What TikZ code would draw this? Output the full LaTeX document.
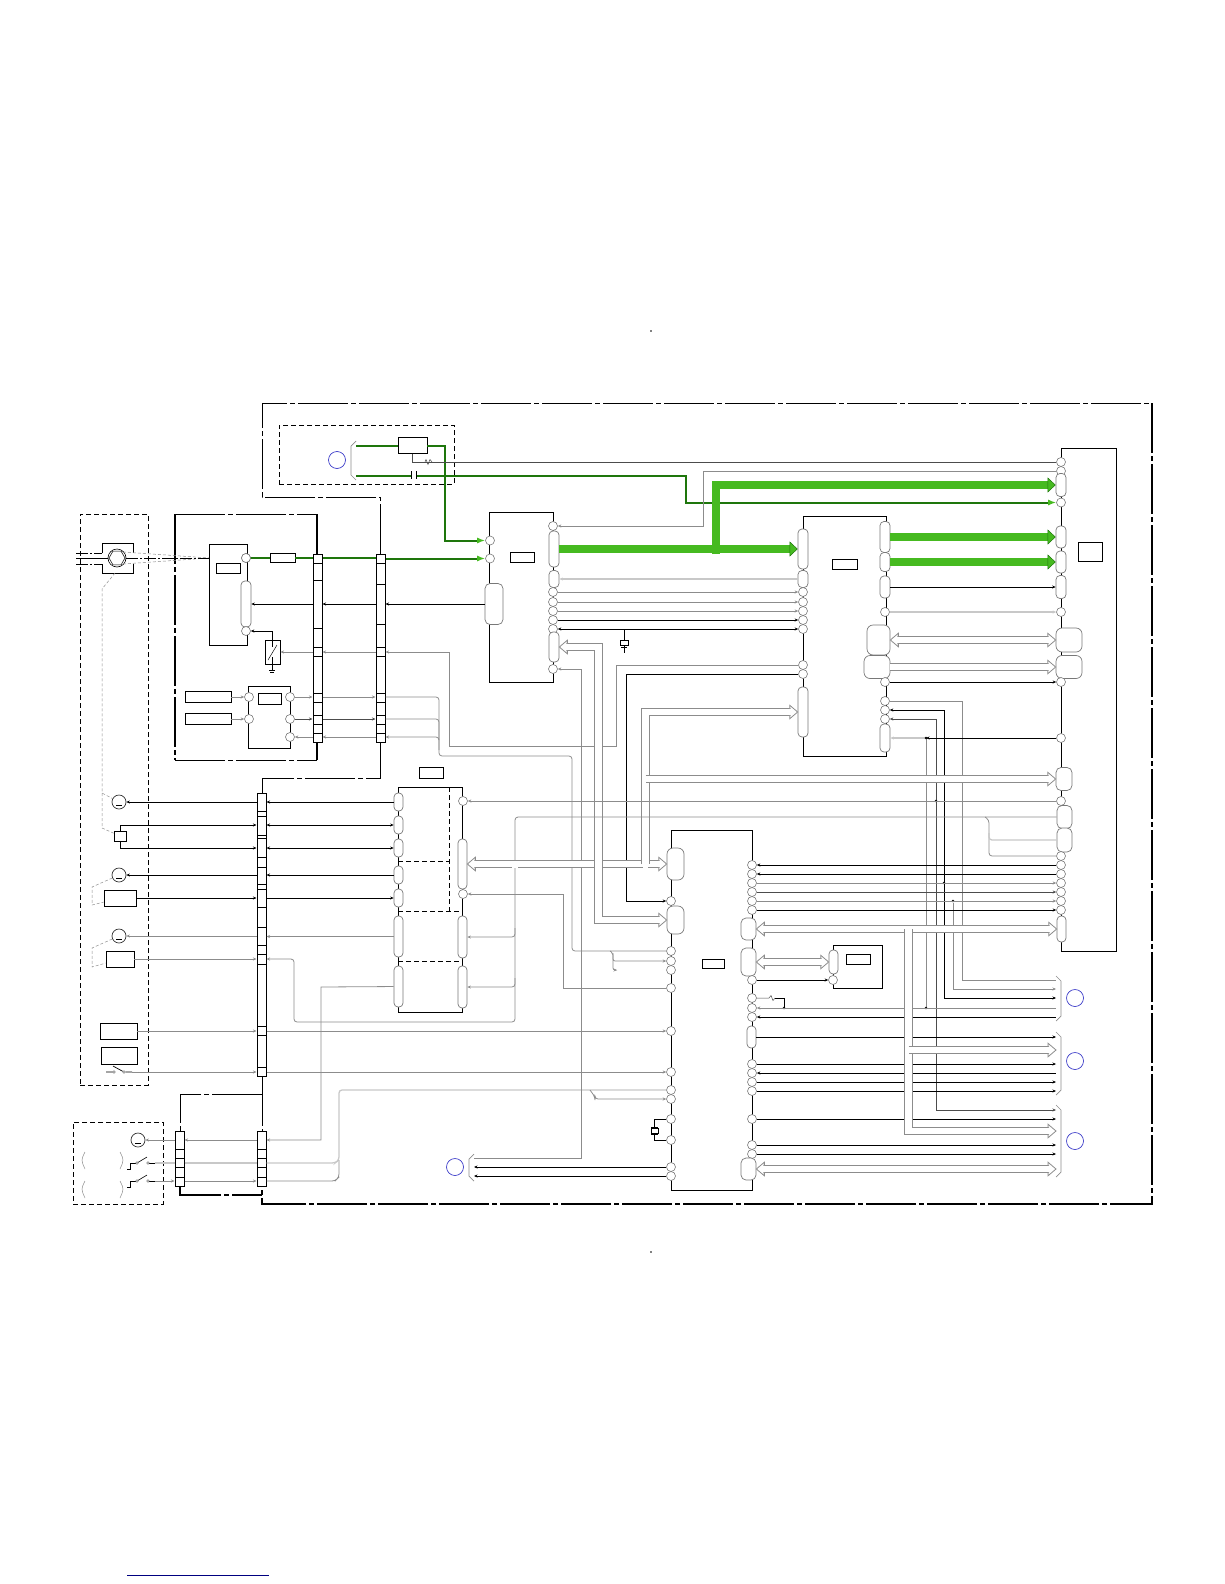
\documentclass[tikz,border=0pt]{standalone}
\usepackage{xcolor}
\definecolor{padgrey}{RGB}{120,120,120}
\definecolor{wiregrey}{RGB}{140,140,140}
\definecolor{palegrey}{RGB}{200,200,200}
\definecolor{fatgreen}{RGB}{70,186,32}
\definecolor{darkgreen}{RGB}{30,118,12}
\definecolor{ringblue}{RGB}{60,60,200}
\usetikzlibrary{arrows.meta,positioning,calc,shapes.geometric}
\pgfdeclarearrow{
  name=BusHead,
  setup code={\pgfarrowssettipend{0pt}\pgfarrowssetlineend{-7pt}%
    \pgfarrowssetvisualbackend{-8pt}\pgfarrowssetbackend{-8pt}},
  drawing code={
    \pgfsetdash{}{0pt}\pgfsetlinewidth{.8pt}\pgfsetfillcolor{white}\pgfsetmiterjoin
    \pgfpathmoveto{\pgfqpoint{-7pt}{3.7pt}}
    \pgfpathlineto{\pgfqpoint{-8pt}{3.7pt}}
    \pgfpathlineto{\pgfqpoint{-8pt}{6.8pt}}
    \pgfpathlineto{\pgfqpoint{0pt}{0pt}}
    \pgfpathlineto{\pgfqpoint{-8pt}{-6.8pt}}
    \pgfpathlineto{\pgfqpoint{-8pt}{-3.7pt}}
    \pgfpathlineto{\pgfqpoint{-7pt}{-3.7pt}}
    \pgfusepathqfillstroke
  }
}

\begin{document}
\begin{tikzpicture}[
    x=1pt, y=-1pt,
    >={Stealth[length=3.5pt,width=3pt]},
    frame/.style={line width=1pt, dash pattern=on 50pt off 3pt on 5pt off 3pt},
    thickframe/.style={frame, line width=1.8pt},
    boxdash/.style={dash pattern=on 5pt off 3pt, line width=.9pt},
    dashbox/.style={rectangle, draw, boxdash, inner sep=0},
    icbox/.style={rectangle, draw, line width=1pt, inner sep=0},
    tag/.style={rectangle, draw, fill=white, line width=.9pt, inner sep=0},
    ladder/.style={rectangle, draw, fill=white, line width=1pt, inner sep=0, minimum width=9pt},
    pad/.style={circle, draw=padgrey, fill=white, line width=.6pt, inner sep=0, minimum size=9pt},
    pill/.style={rectangle, rounded corners=4pt, draw=padgrey, fill=white, line width=.7pt, inner sep=0},
    ring/.style={circle, draw=ringblue, line width=.7pt, inner sep=0, minimum size=17pt},
    motor/.style={circle, draw=black!80, fill=white, line width=.7pt, inner sep=0, minimum size=14pt},
    dot/.style={circle, fill=black, inner sep=0, minimum size=2.6pt},
    contact/.style={circle, draw=black!70, fill=white, line width=.4pt, inner sep=0, minimum size=2.6pt},
    wire/.style={black, line width=.9pt},
    dwire/.style={black!70, line width=.8pt},
    gwire/.style={wiregrey, line width=.8pt},
    lwire/.style={palegrey, line width=1.3pt},
    greenwire/.style={darkgreen, line width=2pt},
    greentip/.style={-{Latex[length=8pt,width=6pt,fatgreen]}},
    bus/.style={draw=wiregrey, line width=.8pt, double=white, double distance=6.6pt},
    fat/.style={draw=darkgreen, line width=.6pt, double=fatgreen, double distance=7.4pt,
                -{Triangle[length=8pt,width=15pt,fill=fatgreen,line width=.5pt]}},
    hint/.style={wiregrey, densely dashed, line width=.5pt},
    bracket/.style={wiregrey, line width=.7pt}
  ]
    \useasboundingbox (0,0) rectangle (1224,1584);

    % page marks
    \node[dot, minimum size=1.6pt] (markt) at (651,331) {};
    \node[dot, minimum size=1.6pt] (markb) at (651,1252) {};
    \draw[blue!50!black, line width=1pt] (127,1575) -- (269,1575);

    % outer frames
    \draw[frame] (380,554) -- (380,497) -- (262,497) -- (262,403) -- (1152,403);
    \draw[thickframe] (1152,403) -- (1152,1204) -- (262,1204) -- (262,1186);
    \draw[frame] (380,742) -- (380,778) -- (262,778) -- (262,793);
    \draw[frame] (262,1076) -- (262,1131);
    \draw[frame] (262,1094) -- (180,1094) -- (180,1131);
    \draw[thickframe] (180,1186) -- (180,1195) -- (262,1195);
    \draw[frame] (175,514) -- (317,514);
    \draw[frame] (175,760) -- (317,760);
    \draw[thickframe] (175,514) -- (175,760);
    \draw[line width=1.6pt] (317,514) -- (317,554);
    \draw[line width=1.6pt] (317,742) -- (317,760);

    % dashed boxes
    \node[dashbox, minimum width=175pt, minimum height=59pt] (boxa) at (366.5,454.5) {};
    \node[dashbox, minimum width=68pt, minimum height=571pt] (boxb) at (114,799.5) {};
    \node[dashbox, minimum width=90pt, minimum height=82pt] (boxc) at (118,1163) {};

    % rings
    \node[ring] (ringa) at (337,460) {};
    \node[ring] (ringb) at (455,1167) {};
    \node[ring] (ringc) at (1075,998) {};
    \node[ring] (ringd) at (1075,1061) {};
    \node[ring] (ringe) at (1075,1141) {};

    % brackets
    \draw[bracket] (356,441) -- (351,446) -- (351,475) -- (356,480);
    \draw[bracket] (474,1154) -- (469,1159) -- (469,1176) -- (474,1181);
    \draw[bracket] (1056,976) -- (1061,981) -- (1061,1016) -- (1056,1021);
    \draw[bracket] (1056,1032) -- (1061,1037) -- (1061,1090) -- (1056,1095);
    \draw[bracket] (1056,1105) -- (1061,1110) -- (1061,1172) -- (1056,1177);
    \coordinate (lb) at (474,1167);
    \coordinate (bk) at (1056,1000);
    \coordinate (am) at (356,445.5);
    \coordinate (ac) at (356,475.5);

    % connector blocks
    \node[ladder, minimum height=188pt] (cna) at (317.5,648) {};
    \node[ladder, minimum height=188pt] (cnb) at (380.5,648) {};
    \node[ladder, minimum height=283pt] (cnc) at (261.5,934.5) {};
    \node[ladder, minimum height=55pt] (cnd) at (179.5,1158.5) {};
    \node[ladder, minimum height=55pt] (cne) at (261.5,1158.5) {};
    \foreach \y in {563,580,628,647,656,693,702,715,724,733}
      \draw[line width=.8pt] (313,\y) -- (322,\y);
    \foreach \y in {563,584,624,647,656,693,702,715,724,733}
      \draw[line width=.8pt] (376,\y) -- (385,\y);
    \foreach \y in {811,816,835,838,857,867,884,889,907,927,945,954,964,1026,1035,1067}
      \draw[line width=.8pt] (257,\y) -- (266,\y);
    \foreach \y in {1149,1158,1167,1177} {
      \draw[line width=.8pt] (175,\y) -- (184,\y);
      \draw[line width=.8pt] (257,\y) -- (266,\y);
    }

    % Tuner block
    \node[icbox, minimum width=38pt, minimum height=101pt] (tun) at (228,594.5) {};
    \node[tag, minimum width=24pt, minimum height=10pt] (tunt) at (228,568) {};
    \node[pad] (tna) at (246,558) {};
    \node[pill, minimum width=10pt, minimum height=46pt] (tnp) at (246,604) {};
    \node[pad] (tnb) at (246,631) {};
    \node[tag, minimum width=25pt, minimum height=9pt] (rfa) at (282.5,558) {};
    \node[tag, minimum width=15pt, minimum height=24pt] (swa) at (272.5,652) {};
    \draw[line width=.5pt] (268,660) -- (277,645);
    \draw[line width=.5pt] (272,639) -- (272,647) (272,657) -- (272,670);
    \draw[line width=.5pt] (269,670) -- (275,670) (270,672) -- (274,672);

    % Small block under tuner
    \node[icbox, minimum width=42pt, minimum height=62pt] (amp) at (269,717) {};
    \node[tag, minimum width=23pt, minimum height=11pt] (ampt) at (269.5,698.5) {};
    \node[pad] (ama) at (249,697) {};
    \node[pad] (amb) at (249,719) {};
    \node[pad] (amc) at (290,697) {};
    \node[pad] (amd) at (290,719) {};
    \node[pad] (ame) at (290,737) {};
    \node[tag, minimum width=46pt, minimum height=11pt] (srca) at (208,697) {};
    \node[tag, minimum width=46pt, minimum height=11pt] (srcb) at (208,719) {};

    % Left parts
    \draw[line width=.9pt] (102,553) -- (102,543) -- (133,543) -- (133,553);
    \draw[line width=.9pt] (102,564) -- (102,573) -- (133,573) -- (133,564);
    \node[circle, draw, fill=white, line width=.6pt, inner sep=0, minimum size=18pt] (jack) at (117,558) {};
    \node[regular polygon, regular polygon sides=6, draw, line width=.5pt, inner sep=0, minimum size=16pt] (jacki) at (117,558) {};
    \node[motor] (mota) at (119,802) {};
    \node[tag, minimum width=12pt, minimum height=10pt] (sqa) at (120,836) {};
    \node[motor] (motb) at (119,875) {};
    \node[tag, minimum width=32pt, minimum height=16pt] (reca) at (120,898) {};
    \node[motor] (motc) at (119,936) {};
    \node[tag, minimum width=28pt, minimum height=16pt] (recb) at (120,959) {};
    \node[tag, minimum width=37pt, minimum height=16pt] (recc) at (118.5,1031) {};
    \node[tag, minimum width=36pt, minimum height=17pt] (recd) at (119,1055.5) {};
    \coordinate (swb) at (132,1072);
    \node[contact] (cta) at (114,1072) {};
    \node[contact] (ctb) at (124,1072) {};
    \draw[line width=.7pt] (106,1072) -- (cta) (113,1066) -- (ctb) (ctb) -- (swb);
    \node[motor] (motd) at (138,1140) {};
    \coordinate (swc) at (155,1163);
    \coordinate (swd) at (155,1181);
    \foreach \y in {1163,1181} {
      \draw[line width=.8pt] (127,\y+6) -- (131,\y+6) (130,\y+6) -- (130,\y) -- (136,\y);
      \draw[line width=.6pt] (137,\y) -- (147,\y-6);
      \draw[line width=.8pt] (149,\y) -- (155,\y);
      \node[contact] at (137,\y) {};
      \node[contact] at (148,\y) {};
    }
    \foreach \y in {1152,1181} {
      \draw[palegrey!70!black, line width=.5pt] (85,\y) .. controls (81,\y+8) .. (85,\y+17);
      \draw[palegrey!70!black, line width=.5pt] (120,\y) .. controls (124,\y+8) .. (120,\y+17);
    }
    \foreach \m in {mota,motb,motc,motd}
      \draw[line width=.8pt] ([shift={(-3,3.5)}]\m.center) -- ++(6,0);

    % Dashed hints from the jack
    \draw[hint] (115,573) -- (102,589) -- (102,793) -- (mota);
    \draw[hint] (102,793) -- (102,828) -- (sqa);
    \draw[hint] (motb) -- (92,887) -- (92,905) -- (reca);
    \draw[hint] (motc) -- (92,948) -- (92,967) -- (recb);
    \draw[hint] (123,552) -- (209,558);
    \draw[hint] (123,564) -- (209,558);
    \draw[line width=.7pt, dash pattern=on 12pt off 2pt on 2pt off 2pt] (76,553) -- (102,553);
    \draw[line width=.7pt] (76,558) -- (jack);
    \draw[line width=.7pt, dash pattern=on 12pt off 2pt on 2pt off 2pt] (76,564) -- (102,564);
    \draw[line width=.7pt, dash pattern=on 12pt off 2pt on 2pt off 2pt] (jack) -- (tun.west |- jack);

    % Block 3, drive
    \node[icbox, minimum width=64pt, minimum height=225pt] (drv) at (430,899.5) {};
    \node[tag, minimum width=24pt, minimum height=11pt] (drvt) at (431,772.5) {};
    \draw[boxdash] (449,787) -- (449,911);
    \draw[boxdash] (398,861) -- (449,861);
    \draw[boxdash] (398,911) -- (462,911);
    \draw[boxdash] (398,961) -- (462,961);
    \node[pill, minimum width=9pt, minimum height=18pt] (dla) at (398.5,802) {};
    \node[pill, minimum width=9pt, minimum height=18pt] (dlb) at (398.5,825) {};
    \node[pill, minimum width=9pt, minimum height=18pt] (dlc) at (398.5,848) {};
    \node[pill, minimum width=9pt, minimum height=18pt] (dld) at (398.5,875) {};
    \node[pill, minimum width=9pt, minimum height=18pt] (dle) at (398.5,898) {};
    \node[pill, minimum width=9pt, minimum height=41pt] (dlf) at (398.5,936.5) {};
    \node[pill, minimum width=9pt, minimum height=41pt] (dlg) at (398.5,986.5) {};
    \node[pad] (dra) at (463,801) {};
    \node[pill, minimum width=9pt, minimum height=50pt] (drb) at (462.5,864) {};
    \node[pad] (drc) at (463,894) {};
    \node[pill, minimum width=9pt, minimum height=42pt] (drd) at (462.5,937) {};
    \node[pill, minimum width=9pt, minimum height=42pt] (dre) at (462.5,987) {};

    % Block 1
    \node[icbox, minimum width=64pt, minimum height=170pt] (ica) at (521,597) {};
    \node[tag, minimum width=24pt, minimum height=10pt] (icat) at (522,557) {};
    \node[pad] (iaa) at (490,540.5) {};
    \node[pad] (iab) at (490,558.5) {};
    \node[pill, rounded corners=5pt, minimum width=18pt, minimum height=41pt] (ial) at (494,604) {};
    \node[pad] (iac) at (553,526) {};
    \node[pill, minimum width=10pt, minimum height=36pt] (iar) at (554,549) {};
    \node[pill, minimum width=10pt, minimum height=17pt] (ias) at (554,579) {};
    \node[pad] (iad) at (553,592) {};
    \node[pad] (iae) at (553,602) {};
    \node[pad] (iaf) at (553,611) {};
    \node[pad] (iag) at (553,620) {};
    \node[pad] (iah) at (553,629) {};
    \node[pill, minimum width=10pt, minimum height=30pt] (iat) at (554,647) {};
    \node[pad] (iai) at (553,669) {};

    % Block 2
    \node[icbox, minimum width=83pt, minimum height=240pt] (icb) at (844.5,636) {};
    \node[tag, minimum width=25pt, minimum height=10pt] (icbt) at (844.5,564) {};
    \node[pill, minimum width=10pt, minimum height=40pt] (ibl) at (803,549) {};
    \node[pill, minimum width=10pt, minimum height=17pt] (ibs) at (803,579) {};
    \node[pad] (ibd) at (803,592) {};
    \node[pad] (ibe) at (803,602) {};
    \node[pad] (ibf) at (803,611) {};
    \node[pad] (ibg) at (803,620) {};
    \node[pad] (ibh) at (803,629) {};
    \node[pad] (ibi) at (803,665) {};
    \node[pad] (ibj) at (803,674) {};
    \node[pill, minimum width=10pt, minimum height=50pt] (ibt) at (803,712) {};
    \node[pill, minimum width=10pt, minimum height=31pt] (ira) at (885,537) {};
    \node[pill, minimum width=10pt, minimum height=19pt] (irb) at (885,562) {};
    \node[pill, minimum width=10pt, minimum height=22pt] (irc) at (885,587) {};
    \node[pad] (ird) at (885,612) {};
    \node[pill, rounded corners=6pt, minimum width=23pt, minimum height=30pt] (ire) at (878.5,640) {};
    \node[pill, rounded corners=6pt, minimum width=26pt, minimum height=23pt] (irf) at (877,667) {};
    \node[pad] (irg) at (885,682) {};
    \node[pad] (irh) at (885,701) {};
    \node[pad] (iri) at (885,710) {};
    \node[pad] (irj) at (885,719) {};
    \node[pill, minimum width=10pt, minimum height=28pt] (irk) at (885,738) {};

    % Block 4, far right
    \node[icbox, minimum width=55pt, minimum height=503pt] (icd) at (1088.5,699.5) {};
    \node[tag, minimum width=24pt, minimum height=19pt] (icdt) at (1090,551.5) {};
    \node[pad] (rta) at (1061,462) {};
    \node[pad] (rtb) at (1061,471) {};
    \node[pill, minimum width=10pt, minimum height=23pt] (rtc) at (1061,485) {};
    \node[pad] (rtd) at (1061,502.5) {};
    \node[pill, minimum width=10pt, minimum height=22pt] (rte) at (1061,537) {};
    \node[pill, minimum width=10pt, minimum height=22pt] (rtf) at (1061,562) {};
    \node[pill, minimum width=10pt, minimum height=23pt] (rtg) at (1061,587) {};
    \node[pad] (rth) at (1061,612) {};
    \node[pill, rounded corners=6pt, minimum width=26pt, minimum height=24pt] (rti) at (1069,640) {};
    \node[pill, rounded corners=6pt, minimum width=26pt, minimum height=23pt] (rtj) at (1069,667) {};
    \node[pad] (rtk) at (1061,682) {};
    \node[pad] (rtl) at (1061,738) {};
    \node[pill, rounded corners=5pt, minimum width=16pt, minimum height=23pt] (rtm) at (1064,779) {};
    \node[pad] (rtn) at (1061,801) {};
    \node[pill, rounded corners=5pt, minimum width=15pt, minimum height=23pt] (rto) at (1064.5,817) {};
    \node[pill, rounded corners=5pt, minimum width=15pt, minimum height=24pt] (rtp) at (1064.5,840) {};
    \node[pad] (rtq) at (1061,856) {};
    \node[pad] (rtr) at (1061,865) {};
    \node[pad] (rts) at (1061,874) {};
    \node[pad] (rtt) at (1061,883) {};
    \node[pad] (rtu) at (1061,892) {};
    \node[pad] (rtv) at (1061,901) {};
    \node[pad] (rtw) at (1061,910) {};
    \node[pill, minimum width=9pt, minimum height=26pt] (rtx) at (1061.5,929) {};

    % Block 5, bottom centre
    \node[icbox, minimum width=81pt, minimum height=360pt] (ice) at (711.5,1010) {};
    \node[tag, minimum width=22pt, minimum height=9pt] (icet) at (713,963.5) {};
    \node[pill, rounded corners=6pt, minimum width=17pt, minimum height=32pt] (bla) at (675.5,864) {};
    \node[pad] (bpa) at (671,901) {};
    \node[pill, rounded corners=6pt, minimum width=17pt, minimum height=28pt] (blb) at (675.5,920) {};
    \node[pad] (bpb) at (671,951) {};
    \node[pad] (bpc) at (671,961) {};
    \node[pad] (bpd) at (671,970) {};
    \node[pad] (bpe) at (671,988) {};
    \node[pad] (bpf) at (671,1031) {};
    \node[pad] (bpg) at (671,1072) {};
    \node[pad] (bph) at (671,1090) {};
    \node[pad] (bpi) at (671,1099) {};
    \node[pad] (bpj) at (671,1119) {};
    \node[pad] (bpk) at (671,1140) {};
    \node[pad] (bpl) at (671,1167) {};
    \node[pad] (bpm) at (671,1176) {};
    \node[pad] (cpa) at (752,865) {};
    \node[pad] (cpb) at (752,874) {};
    \node[pad] (cpc) at (752,883) {};
    \node[pad] (cpd) at (752,892) {};
    \node[pad] (cpe) at (752,901) {};
    \node[pad] (cpf) at (752,910) {};
    \node[pill, rounded corners=5pt, minimum width=15pt, minimum height=22pt] (cra) at (748.5,929) {};
    \node[pill, rounded corners=5pt, minimum width=15pt, minimum height=28pt] (crb) at (748.5,962) {};
    \node[pad] (cpg) at (752,980) {};
    \node[pad] (cph) at (752,998) {};
    \node[pad] (cpi) at (752,1008) {};
    \node[pad] (cpj) at (752,1017) {};
    \node[pill, minimum width=9pt, minimum height=22pt] (crc) at (751.5,1037) {};
    \node[pad] (cpk) at (752,1064) {};
    \node[pad] (cpl) at (752,1073) {};
    \node[pad] (cpm) at (752,1082) {};
    \node[pad] (cpn) at (752,1091) {};
    \node[pad] (cpo) at (752,1119) {};
    \node[pad] (cpp) at (752,1145) {};
    \node[pad] (cpq) at (752,1154) {};
    \node[pill, rounded corners=5pt, minimum width=15pt, minimum height=22pt] (crd) at (748.5,1169) {};

    % Block 6, small one
    \node[icbox, minimum width=49pt, minimum height=43pt] (icf) at (857.5,966.5) {};
    \node[tag, minimum width=24pt, minimum height=10pt] (icft) at (858,959) {};
    \node[pill, minimum width=9pt, minimum height=24pt] (ifa) at (833.5,962) {};
    \node[pad] (ifb) at (833,980) {};

    % Top green part
    \node[tag, minimum width=29pt, minimum height=16pt] (rfb) at (412.5,445.5) {};
    \draw[greenwire] (am) -- (rfb);
    \draw[greenwire, greentip] (rfb) -| (444.5,540.5) -- (iaa);
    \draw[greenwire] (ac) -- (410.5,475.5);
    \draw[line width=.7pt] (411,471) -- (411,479) (416,471) -- (416,479);
    \draw[greenwire, greentip] (416.5,475.5) -| (685.5,502.5) -- (rtd);
    \draw[dwire] (rfb.south) |- (rta);
    \draw[dwire, line width=.5pt] (425,462) -- (426,459.5) -- (428,464.5) -- (430,459.5) -- (432,462);
    \draw[gwire, <-] (iac) -| (703,471) -- (rtb);

    % Tuner wires
    \draw[greenwire] (tna |- rfa) -- (rfa);
    \draw[greenwire] (rfa) -- (rfa -| cna.west);
    \draw[greenwire] (rfa -| cna.east) -- (rfa -| cnb.west);
    \draw[greenwire, greentip] (iab -| cnb.east) -- (iab);
    \node[pad] (tnc) at (246,558) {};
    \draw[wire, ->] (ial) -- (ial -| cnb.east);
    \draw[wire, ->] (ial -| cnb.west) -- (ial -| cna.east);
    \draw[wire, ->] (ial -| cna.west) -- (tnp);
    \draw[wire, <-] (tnb) -| (swa.north);
    \draw[gwire, ->] (swa -| cna.west) -- (swa);
    \draw[gwire, ->] (swa -| cnb.west) -- (swa -| cna.east);
    \draw[gwire, ->] (ibi) -| (616,746) -| (449,652) -- (swa -| cnb.east);
    \draw[gwire, ->] (srca) -- (ama);
    \draw[gwire, ->] (srcb) -- (amb);
    \draw[gwire, ->] (amc) -- (amc -| cna.west);
    \draw[gwire, ->] (amc -| cna.east) -- (amc -| cnb.west);
    \draw[dwire, ->] (amd) -- (amd -| cna.west);
    \draw[dwire, ->] (amd -| cna.east) -- (amd -| cnb.west);
    \draw[gwire, <-] (ame) -- (ame -| cna.west);
    \draw[gwire, <-] (ame -| cna.east) -- (ame -| cnb.west);
    \draw[gwire, rounded corners=3pt] (amc -| cnb.east) -| (439,756) -| (572,951) -- (bpb);
    \draw[gwire, rounded corners=3pt] (amd -| cnb.east) -| (439,740);
    \draw[gwire, rounded corners=3pt, <-] (ame -| cnb.east) -| (439,750);
    \draw[gwire, rounded corners=2pt, ->] (610,951) -- (613,953) |- (bpc);
    \draw[gwire, rounded corners=2pt, ->] (613,953) |- (617,970);

    % Left block wires
    \draw[wire, <-] (mota) -- (mota -| cnc.west);
    \draw[wire, <-] (dla -| cnc.east) -- (dla);
    \draw[wire, ->] (sqa.north) |- (dlb -| cnc.west);
    \draw[wire, <->] (dlb -| cnc.east) -- (dlb);
    \draw[wire, ->] (sqa.south) |- (dlc -| cnc.west);
    \draw[wire, <->] (dlc -| cnc.east) -- (dlc);
    \draw[wire, <-] (motb) -- (motb -| cnc.west);
    \draw[wire, <-] (dld -| cnc.east) -- (dld);
    \draw[wire, ->] (reca) -- (reca -| cnc.west);
    \draw[wire, ->] (dle -| cnc.east) -- (dle);
    \draw[gwire, <-] (motc) -- (motc -| cnc.west);
    \draw[gwire, <-] (dlf -| cnc.east) -- (dlf);
    \draw[gwire, ->] (recb) -- (recb -| cnc.west);
    \draw[gwire, ->] (recc) -- (recc -| cnc.west);
    \draw[gwire, ->] (recc -| cnc.east) -- (bpf);
    \draw[gwire, ->] (swb) -- (swb -| cnc.west);
    \draw[gwire, ->] (swb -| cnc.east) -- (bpg);
    \draw[gwire, <-] (motd) -- (motd -| cnd.west);
    \draw[gwire, <-] (motd -| cnd.east) -- (motd -| cne.west);
    \draw[gwire, <-] (motd -| cne.east) -| (321,987) -- (dlg);
    \draw[lwire] (swc) -- (swc -| cnd.west);
    \draw[lwire] (swc -| cnd.east) -- (swc -| cne.west);
    \draw[lwire, rounded corners=3pt] (swc -| cne.east) -- (335,1163) -- (339,1160) |- (bph);
    \draw[gwire, ->] (swd) -- (swd -| cnd.west);
    \draw[gwire, ->] (swd -| cnd.east) -- (swd -| cne.west);
    \draw[gwire, rounded corners=3pt] (swd -| cne.east) -- (335,1181) -- (339,1177) -- (339,1160);
    \draw[gwire, rounded corners=3pt, ->] (590,1090) -- (595,1097) |- (bpi);

    % Wires between block 1 and block 2
    \draw[lwire, <-] (ias) -- (ibs);
    \draw[gwire, ->] (iad) -- (ibd);
    \draw[gwire, ->] (iae) -- (ibe);
    \draw[gwire, ->] (iaf) -- (ibf);
    \draw[wire, ->] (iag) -- (ibg);
    \draw[wire, <->] (iah) -- (ibh);
    \node[tag, minimum width=8pt, minimum height=5pt] (xta) at (624,642.5) {};
    \draw[line width=.8pt] (xta.north) -- (iah -| xta.north);
    \draw[line width=.8pt] (621,647) -- (627,647) (xta.south) -- (624,653);
    \draw[gwire, <-] (iai) -| (581,1158) -- (lb |- 0,1158);
    \draw[wire, ->] (ibj) -| (626,901) -- (bpa);

    % Wires on the right
    \draw[wire, ->] (irc) -- (rtg);
    \draw[lwire, ->] (ird) -- (rth);
    \draw[wire, ->] (irg) -- (rtk);
    \draw[gwire] (irh) -| (962,980) -- (1056,980);
    \draw[wire, <->] (iri) -| (944,998) -- (1056,998);
    \draw[dwire, <->] (irj) -| (936,1110) -- (1056,1110);
    \draw[lwire, ->] (926,738) -- (irk);
    \draw[wire, ->] (rtl) -- (926,738);
    \draw[gwire] (926,738) -- (926,1008);
    \node[dot] (jna) at (926,738) {};
    \node[dot] (jnb) at (926,1008) {};
    \node[dot] (jnc) at (936,801) {};
    \node[dot] (jnd) at (944,883) {};
    \node[dot] (jne) at (953,901) {};
    \draw[gwire, ->] (jne) |- (1056,989);
    \draw[wire, <-] (cpa) -- (rtr);
    \draw[wire, <-] (cpb) -- (rts);
    \draw[gwire, ->] (cpc) -- (rtt);
    \draw[dwire, ->] (cpd) -- (rtu);
    \draw[gwire, ->] (cpe) -- (rtv);
    \draw[wire, ->] (cpf) -- (rtw);
    \draw[wire, ->] (cpg) -- (ifb);
    \draw[dwire, line width=.5pt] (cph) -- (767,998) -- (769,998) -- (771,995.5) -- (773,1000.5) -- (775,998);
    \draw[wire] (775,998) -| (784,1008);
    \node[dot] (jnf) at (784,1008) {};
    \draw[gwire, <-] (cpi) -- (cpi -| bk);
    \draw[wire, <-] (cpj) -- (cpj -| bk);
    \draw[wire, ->] (crc) -- (crc -| bk);
    \draw[wire, ->] (cpk) -- (cpk -| bk);
    \draw[wire, <-] (cpl) -- (cpl -| bk);
    \draw[wire, ->] (cpm) -- (cpm -| bk);
    \draw[wire, ->] (cpn) -- (cpn -| bk);
    \draw[wire, ->] (cpo) -- (cpo -| bk);
    \draw[wire, ->] (cpp) -- (cpp -| bk);
    \draw[wire, ->] (cpq) -- (cpq -| bk);

    % Bottom left of block 5
    \draw[gwire, <-] (drc) -| (563,988) -- (bpe);
    \draw[wire, <-] (bpl -| lb) -- (bpl);
    \draw[wire, <-] (bpm -| lb) -- (bpm);
    \node[tag, minimum width=7pt, minimum height=5pt] (xtb) at (654.5,1130.5) {};
    \draw[line width=.8pt] (bpj) -| (xtb.north);
    \draw[line width=.8pt] (bpk) -| (xtb.south);
    \draw[line width=.8pt] (651,1127) -- (658,1127) (651,1134) -- (658,1134);

    % Thick buses
    \draw[bus, {BusHead}-{BusHead}] (ire.east) -- (rti.west);
    \draw[bus, -{BusHead}] (irf.east) -- (rtj.west);
    \draw[bus, {BusHead}-{BusHead}] (drb.east) -- (bla.west);
    \draw[bus, -{BusHead}] (645.5,864) |- (ibt.west);
    \draw[bus, -{BusHead}] (645.5,779) -- (rtm.west);
    \draw[bus, {BusHead}-{BusHead}] (iat.east) -| (598.5,920) -- (blb.west);
    \draw[bus, {BusHead}-{BusHead}] (cra.east) -- (rtx.west);
    \draw[bus, {BusHead}-{BusHead}] (crb.east) -- (ifa.west);
    \draw[bus, {BusHead}-{BusHead}] (crd.east) -- (crd -| bk);
    \draw[bus, -{BusHead}] (908.5,929) |- (1056,1131);
    \draw[bus, -{BusHead}] (908.5,1050) -- (1056,1050);
    \fill[white] (642.6,858) rectangle (648.4,867.5);
    \fill[white] (642.8,776) rectangle (650,782);
    \fill[white] (905.6,926) rectangle (911.4,936);
    \fill[white] (905.8,1047) rectangle (913,1053);

    % Wires over the buses
    \draw[gwire, ->] (rtn) -- (dra);
    \draw[gwire, rounded corners=3pt, ->] (rto) -| (515,1022) -| (294,959) -- (recb -| cnc.east);
    \draw[gwire, rounded corners=3pt, ->] (515,928) |- (drd);
    \draw[gwire, rounded corners=3pt, ->] (515,978) |- (dre);
    \draw[gwire, rounded corners=3pt] (985,817) -- (989,820) |- (rtq);
    \draw[lwire, rounded corners=3pt] (989,833) |- (rtp);
    \fill[white] (511.6,860.5) rectangle (518.4,867.5);

    % Fat green arrows
    \draw[fat] (716,549) |- (rtc.west);
    \draw[fat] (iar.east) -- (ibl.west);
    \draw[fat] (ira.east) -- (rte.west);
    \draw[fat] (irb.east) -- (rtf.west);
    \draw[fatgreen, line width=7.4pt] (716,554) -- (716,538);
  \end{tikzpicture}
\end{document}
